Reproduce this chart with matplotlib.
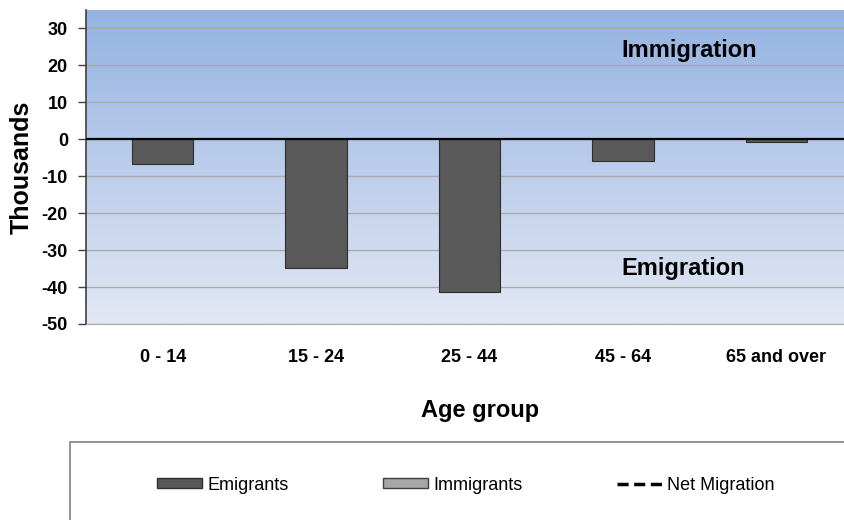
import matplotlib

matplotlib.use("Agg")

import matplotlib.pyplot as plt
import numpy as np
from matplotlib.colors import LinearSegmentedColormap
from matplotlib.lines import Line2D
from matplotlib.patches import Patch, Rectangle

age_groups = ["0 - 14", "15 - 24", "25 - 44", "45 - 64", "65 and over"]
emigrants = [-6.8, -34.9, -41.3, -5.8, -0.7]
y_ticks = [30, 20, 10, 0, -10, -20, -30, -40, -50]

plt.rcParams["font.family"] = ["Liberation Sans", "DejaVu Sans"]

fig = plt.figure(figsize=(8.45, 5.2), dpi=100)
ax = fig.add_axes([86 / 845, 1 - 324 / 520, 767 / 845, 314 / 520])

# blue gradient behind the plot area
grad = np.linspace(0, 1, 256).reshape(-1, 1)
cmap = LinearSegmentedColormap.from_list("bg", ["#e2e8f4", "#94b2e2"])
ax.imshow(grad, aspect="auto", cmap=cmap, origin="lower",
          extent=[-0.5, 4.5, -50, 35], zorder=0)

x = np.arange(len(age_groups))
ax.bar(x, emigrants, width=0.4, color="#595959", edgecolor="#2e2e2e",
       linewidth=0.8, zorder=3)

for t in y_ticks:
    ax.axhline(t, color="#a9a9a9", linewidth=1.0, zorder=1)
ax.axhline(0, color="black", linewidth=1.6, zorder=4)

ax.set_xlim(-0.5, 4.5)
ax.set_ylim(-50, 35)
ax.set_yticks(y_ticks)
ax.set_yticklabels([str(t) for t in y_ticks], fontsize=13, fontweight="bold")
ax.set_xticks(x)
ax.set_xticklabels(age_groups, fontsize=13, fontweight="bold")
ax.tick_params(axis="x", length=0, pad=18)
ax.tick_params(axis="y", length=6, width=1, color="#404040", pad=7)

for s in ["top", "right"]:
    ax.spines[s].set_visible(False)
ax.spines["bottom"].set_color("#a9a9a9")
ax.spines["left"].set_color("#404040")
ax.spines["left"].set_linewidth(1.2)

ax.text(3.43, 24, "Immigration", fontsize=17, fontweight="bold",
        ha="center", va="center", zorder=5)
ax.text(3.39, -35, "Emigration", fontsize=17, fontweight="bold",
        ha="center", va="center", zorder=5)

fig.text(22 / 845, 1 - 167 / 520, "Thousands", fontsize=18,
         fontweight="bold", rotation=90, ha="center", va="center")
fig.text(480 / 845, 1 - 410 / 520, "Age group", fontsize=17,
         fontweight="bold", ha="center", va="center")

# legend box
fig.patches.append(Rectangle((70 / 845, -0.1), 1.0, 0.1 + 78 / 520,
                             transform=fig.transFigure, facecolor="white",
                             edgecolor="#808080", linewidth=1.2))
handles = [
    Patch(facecolor="#595959", edgecolor="#2e2e2e", label="Emigrants"),
    Patch(facecolor="#a6a6a6", edgecolor="#404040", label="Immigrants"),
    Line2D([], [], color="black", linestyle=(0, (3.2, 1.6)), linewidth=2.5,
           label="Net Migration"),
]
leg = fig.legend(handles=handles, loc="center", ncol=3, frameon=False,
                 bbox_to_anchor=(466 / 845, 1 - 485 / 520),
                 fontsize=13, handlelength=2.5, handleheight=0.5,
                 handletextpad=0.3, columnspacing=5.2)

fig.savefig("out.png", dpi=100)
